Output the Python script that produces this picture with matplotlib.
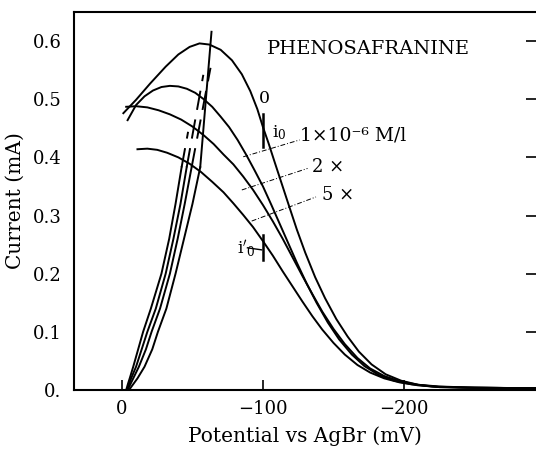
import numpy as np
import matplotlib
matplotlib.use("Agg")
import matplotlib.pyplot as plt

plt.rcParams['font.family'] = ['DejaVu Serif']
plt.rcParams['mathtext.fontset'] = 'dejavuserif'

# descending branches (potential in mV, current in mA)
x_c0 = [-1, -10, -20, -31, -40, -48, -55, -62, -70, -78, -85, -91, -96, -100, -104, -108,
        -113, -118, -124, -130, -137, -144, -152, -160, -168, -177, -187, -198, -210,
        -225, -245, -270, -294]
y_c0 = [0.476, 0.499, 0.527, 0.556, 0.577, 0.590, 0.596, 0.594, 0.585, 0.567, 0.543, 0.514,
        0.483, 0.452, 0.424, 0.394, 0.357, 0.320, 0.276, 0.236, 0.194, 0.158, 0.122, 0.092,
        0.066, 0.044, 0.027, 0.016, 0.009, 0.005, 0.004, 0.0035, 0.003]

x_c1 = [-4, -10, -16, -22, -28, -34, -40, -46, -52, -58, -64, -70, -76, -82, -88, -94, -100,
        -106, -112, -118, -124, -131, -138, -146, -154, -163, -172, -182, -193, -205, -220,
        -245, -294]
y_c1 = [0.464, 0.490, 0.505, 0.515, 0.521, 0.523, 0.522, 0.518, 0.511, 0.500, 0.487, 0.470,
        0.452, 0.430, 0.405, 0.378, 0.350, 0.318, 0.285, 0.252, 0.219, 0.183, 0.150, 0.116,
        0.087, 0.061, 0.041, 0.026, 0.016, 0.010, 0.006, 0.004, 0.003]

x_c2 = [-3, -10, -18, -26, -34, -42, -50, -58, -65, -72, -79, -86, -93, -100, -107, -114,
        -121, -128, -135, -142, -150, -158, -167, -176, -186, -197, -210, -225, -250, -294]
y_c2 = [0.487, 0.488, 0.486, 0.481, 0.474, 0.465, 0.453, 0.438, 0.423, 0.405, 0.388, 0.367,
        0.344, 0.318, 0.290, 0.260, 0.228, 0.196, 0.165, 0.135, 0.105, 0.079, 0.055, 0.037,
        0.024, 0.015, 0.009, 0.006, 0.004, 0.003]

x_c5 = [-11, -18, -25, -32, -40, -48, -56, -64, -72, -79, -86, -93, -100, -107, -114, -121,
        -128, -135, -142, -150, -158, -167, -176, -186, -197, -210, -225, -250, -294]
y_c5 = [0.414, 0.415, 0.413, 0.408, 0.400, 0.389, 0.375, 0.358, 0.340, 0.321, 0.301, 0.280,
        0.256, 0.231, 0.204, 0.178, 0.152, 0.127, 0.104, 0.081, 0.061, 0.043, 0.030, 0.020,
        0.013, 0.008, 0.005, 0.004, 0.003]

# rising branches
y_rise = [0.0, 0.01, 0.02, 0.04, 0.07, 0.1, 0.14, 0.2, 0.26, 0.32, 0.383]
x_rise1 = [-3.0, -4.2, -5.5, -8.0, -11.5, -15.0, -20.5, -28.0, -33.5, -38.0, -42.3]
x_rise2 = [-3.5, -5.0, -6.5, -10.0, -14.0, -18.0, -24.0, -31.0, -36.5, -41.5, -45.9]
x_rise3 = [-4.0, -6.0, -8.0, -12.0, -17.0, -21.0, -27.0, -34.0, -39.5, -44.5, -49.4]
x_rise4 = [-5.0, -8.0, -11.0, -16.0, -21.5, -25.5, -31.5, -38.0, -44.0, -50.0, -55.5]

# upper continuation of the rising branches
x_top_solid = [-55.5, -63.5]
y_top_solid = [0.383, 0.616]
x_ext1 = [-42.3, -46.9]
y_ext1 = [0.383, 0.444]
x_ext2 = [-45.9, -57.7]
y_ext2 = [0.383, 0.542]
x_ext3 = [-49.4, -62.8]
y_ext3 = [0.383, 0.554]

# leader lines to the concentration labels
leaders = [([-86, -126], [0.401, 0.430]),
           ([-85, -131.6], [0.344, 0.381]),
           ([-92, -137.6], [0.2905, 0.332])]

x_ticks = [0, -100, -200]
x_tick_labels = ['0', '\u2212100', '\u2212200']
y_ticks = [0.0, 0.1, 0.2, 0.3, 0.4, 0.5, 0.6]
y_tick_labels = ['0.', '0.1', '0.2', '0.3', '0.4', '0.5', '0.6']

fig = plt.figure(figsize=(5.36, 4.5), dpi=100)
ax = fig.add_axes([74 / 536, 60 / 450, 462 / 536, 378 / 450])

lw = 1.4
for xs, ys in [(x_c0, y_c0), (x_c1, y_c1), (x_c2, y_c2), (x_c5, y_c5)]:
    ax.plot(xs, ys, color='black', lw=lw, solid_joinstyle='round')
for xs in [x_rise1, x_rise2, x_rise3, x_rise4]:
    ax.plot(xs, y_rise, color='black', lw=lw, solid_joinstyle='round')
ax.plot(x_top_solid, y_top_solid, color='black', lw=lw)
for xs, ys in [(x_ext1, y_ext1), (x_ext2, y_ext2), (x_ext3, y_ext3)]:
    ax.plot(xs, ys, color='black', lw=lw, dashes=(10, 5))

for xs, ys in leaders:
    ax.plot(xs, ys, color='black', lw=0.7, dashes=(5, 2, 1, 2))

# i0 and i0' markers
ax.plot([-100, -100], [0.418, 0.474], color='black', lw=1.8)
ax.plot([-100, -100], [0.224, 0.267], color='black', lw=1.8)
ax.plot([-89, -99], [0.2445, 0.241], color='black', lw=1.0)

fs = 12.5
ax.text(-102.6, 0.587, 'PHENOSAFRANINE', fontsize=14, ha='left', va='center')
ax.text(-100.7, 0.501, '0', fontsize=fs, ha='center', va='center')
ax.text(-106.5, 0.442, r'$\mathrm{i}_0$', fontsize=fs, ha='left', va='center')
ax.text(-126.2, 0.438, '1\u00d710\u207b\u2076 M/l', fontsize=13.5, ha='left', va='center')
ax.text(-134.5, 0.384, '2 \u00d7', fontsize=13, ha='left', va='center')
ax.text(-141.6, 0.335, '5 \u00d7', fontsize=13, ha='left', va='center')
ax.text(-81.5, 0.2435, r"$\mathrm{i}'_0$", fontsize=fs, ha='left', va='center')

ax.set_xlim(34, -293.6)
ax.set_ylim(0, 0.65)
ax.set_xticks(x_ticks)
ax.set_xticklabels(x_tick_labels)
ax.set_yticks(y_ticks)
ax.set_yticklabels(y_tick_labels)
ax.tick_params(axis='x', direction='in', length=7, width=1.2, pad=7, labelsize=13)
ax.tick_params(axis='y', left=False, right=True, labelleft=True, direction='in',
               length=7, width=1.2, pad=9, labelsize=13)

for side in ['top', 'left', 'bottom']:
    ax.spines[side].set_linewidth(1.5)
ax.spines['right'].set_visible(False)

ax.set_xlabel('Potential vs AgBr (mV)', fontsize=14.5, labelpad=6)
ax.set_ylabel('Current (mA)', fontsize=14.5, labelpad=6)

fig.savefig('out.png', dpi=100)
